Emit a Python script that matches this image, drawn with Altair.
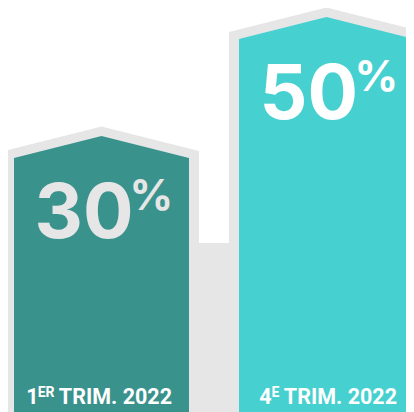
import altair as alt
import pandas as pd

# ---- data ----
quarters = ["1ER TRIM. 2022", "4E TRIM. 2022"]
values = [30, 50]
ordinals = ["1", "4"]
sups = ["ER", "E"]
trim_labels = ["TRIM. 2022", "TRIM. 2022"]

# ---- style ----
bar_colors = ["#3A928D", "#46D0D0"]
pct_colors = ["#E6E6E6", "#FFFFFF"]
GRAY = "#E6E6E6"
W, H = 398, 404
X_RANGE = [0, 406]
Y_MIN, Y_MAX = -12.69, 55.21
BAND_TOP = 15.7
ROOF = "M-1,0.03L-1,0L0,-0.2514L1,0L1,0.03Z"

df = pd.DataFrame({
    "quarter": quarters,
    "value": values,
    "ord": ordinals,
    "sup": sups,
    "rest": trim_labels,
})

x = alt.X("quarter:N", sort=quarters, axis=None,
          scale=alt.Scale(range=X_RANGE, paddingInner=0.2222, paddingOuter=0.01333, align=1))
y_scale = alt.Scale(domain=[Y_MIN, Y_MAX], nice=False, zero=False)
y = alt.Y("value:Q", axis=None, scale=y_scale)
bar_color = alt.Color("quarter:N", scale=alt.Scale(domain=quarters, range=bar_colors), legend=None)
pct_color = alt.Color("quarter:N", scale=alt.Scale(domain=quarters, range=pct_colors), legend=None)

base = alt.Chart(df)

band = base.mark_rect(color=GRAY).encode(
    x=alt.value(0), x2=alt.value(W),
    y=alt.YDatum(BAND_TOP, scale=y_scale, axis=None), y2=alt.datum(Y_MIN),
)

outer_bar = base.mark_bar(color=GRAY, stroke=GRAY, strokeWidth=20, yOffset=3, opacity=1).encode(
    x=x, y=y, y2=alt.datum(Y_MIN)
)
outer_roof = base.mark_point(shape=ROOF, size=38025, filled=True, opacity=1,
                             strokeWidth=0, color=GRAY, yOffset=-7).encode(x=x, y=y)

inner_bar = base.mark_bar(opacity=1).encode(x=x, y=y, y2=alt.datum(Y_MIN), color=bar_color)
inner_roof = base.mark_point(shape=ROOF, size=30625, filled=True, opacity=1,
                             strokeWidth=0).encode(x=x, y=y, color=bar_color)

digits = base.mark_text(align="left", baseline="alphabetic", dx=-67, dy=80,
                        font="Inter", fontWeight=700, fontSize=75).encode(
    x=x, y=y, text=alt.Text("value:Q", format="d"), color=pct_color)
pct = base.mark_text(text="%", align="left", baseline="alphabetic", dx=28, dy=52,
                     font="Inter", fontWeight=700, fontSize=43).encode(
    x=x, y=y, color=pct_color)

lab_font = dict(font="Roboto", fontWeight="bold", color="#FFFFFF", baseline="alphabetic")
ords = base.mark_text(align="right", fontSize=21.5,
                      dx=alt.expr("-47 - 8 * length(datum.sup)"), **lab_font).encode(
    x=x, y=alt.value(396), text="ord:N")
supm = base.mark_text(align="right", fontSize=14, dx=-47, **lab_font).encode(
    x=x, y=alt.value(389), text="sup:N")
rest = base.mark_text(align="right", fontSize=21.5, dx=70.5, **lab_font).encode(
    x=x, y=alt.value(396), text="rest:N")

chart = alt.layer(
    band, outer_bar, outer_roof, inner_bar, inner_roof, digits, pct, ords, supm, rest
).resolve_scale(color="independent").properties(
    width=W, height=H, padding=0, autosize="none"
).configure_view(stroke=None).configure_axis(disable=True)

chart.save("out.html", embed_options={"renderer": "svg", "actions": False})
